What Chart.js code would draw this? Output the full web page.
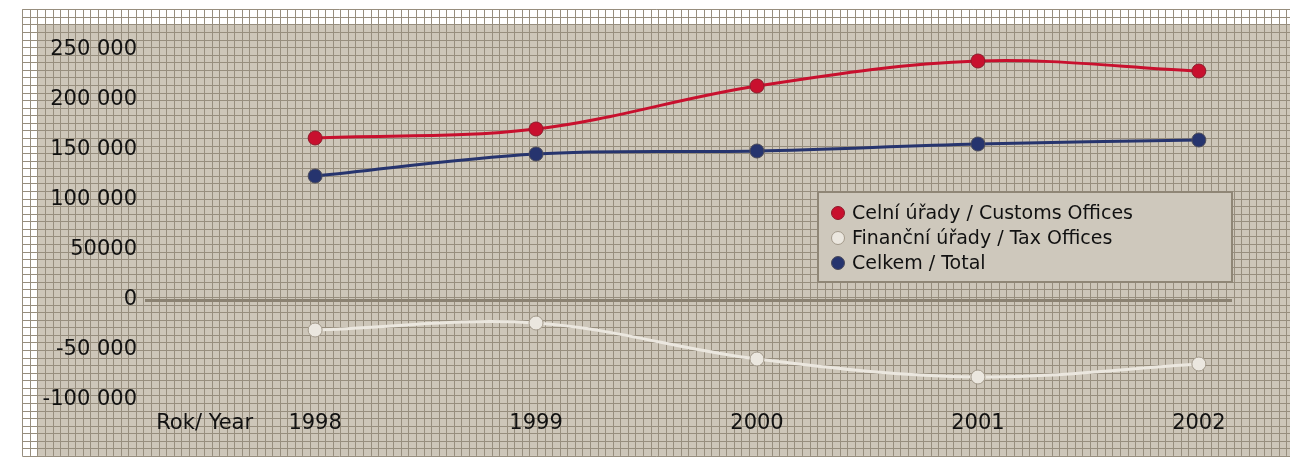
<!DOCTYPE html>
<html>
<head>
<meta charset="utf-8">
<script src="https://cdn.jsdelivr.net/npm/chart.js@4"></script>
<style>
  body { margin: 0; background: #fff; }
  canvas { display: block; }
</style>
</head>
<body>
<canvas id="chart" width="1290" height="460"></canvas>
<script>
const years = [1998, 1999, 2000, 2001, 2002];
const customs = [162000, 171000, 214000, 239000, 229000];
const taxOffices = [-30000, -23000, -59000, -77000, -64000];
const total = [124000, 146000, 149000, 156000, 160000];

const seriesNames = ['Celní úřady / Customs Offices', 'Finanční úřady / Tax Offices', 'Celkem / Total'];
const yTickValues = [250000, 200000, 150000, 100000, 50000, 0, -50000, -100000];
const yTickLabels = ['250 000', '200 000', '150 000', '100 000', '50000', '0', '-50 000', '-100 000'];
const xTickValues = [1997.5, 1998, 1999, 2000, 2001, 2002];
const xTickLabels = ['Rok/ Year', '1998', '1999', '2000', '2001', '2002'];

const FONT = 'DejaVu Sans';
const GRID_LINE = '#978e7e';
const PAPER = '#cdc6b9';

// graph-paper backdrop: white margin cells along the top/left, beige everywhere else
const paperPlugin = {
  id: 'paper',
  beforeDraw(chart) {
    const { ctx, width, height } = chart;
    const step = 7.57, x0 = 22.3, y0 = 9.3;
    ctx.save();
    ctx.fillStyle = '#fff';
    ctx.fillRect(0, 0, width, height);
    const bottom = y0 + step * 59;
    ctx.fillStyle = PAPER;
    ctx.fillRect(x0 + step * 2, y0 + step * 2, width, bottom - (y0 + step * 2));
    ctx.strokeStyle = GRID_LINE;
    ctx.lineWidth = 1;
    ctx.beginPath();
    for (let x = x0; x <= width + 1; x += step) {
      ctx.moveTo(Math.round(x) + 0.5, y0);
      ctx.lineTo(Math.round(x) + 0.5, bottom);
    }
    for (let y = y0; y <= bottom + 0.5; y += step) {
      ctx.moveTo(x0, Math.round(y) + 0.5);
      ctx.lineTo(width, Math.round(y) + 0.5);
    }
    ctx.stroke();
    ctx.restore();
  }
};

// boxed legend inside the plot, drawn from the datasets
const boxLegend = {
  id: 'boxLegend',
  afterDraw(chart) {
    const { ctx } = chart;
    const bx = 818, by = 192, bw = 414, bh = 90;
    ctx.save();
    ctx.fillStyle = '#cec8bc';
    ctx.fillRect(bx, by, bw, bh);
    ctx.strokeStyle = '#8f8676';
    ctx.lineWidth = 2;
    ctx.strokeRect(bx, by, bw, bh);
    ctx.font = '19px "' + FONT + '"';
    ctx.textBaseline = 'middle';
    chart.data.datasets.forEach((ds, i) => {
      const y = by + 21 + i * 25;
      ctx.beginPath();
      ctx.arc(bx + 20, y, 6.5, 0, Math.PI * 2);
      ctx.fillStyle = ds.pointBackgroundColor;
      ctx.fill();
      ctx.lineWidth = 1;
      ctx.strokeStyle = ds.pointBorderColor;
      ctx.stroke();
      ctx.fillStyle = '#111';
      ctx.fillText(ds.label, bx + 34, y + 1);
    });
    ctx.restore();
  }
};

function series(label, data, line, fill, edge) {
  return {
    label,
    data: data.map((v, i) => ({ x: years[i], y: v })),
    borderColor: line,
    borderWidth: 3,
    pointRadius: 7,
    pointBackgroundColor: fill,
    pointBorderColor: edge,
    pointBorderWidth: 1,
    tension: 0.35
  };
}

new Chart(document.getElementById('chart'), {
  type: 'line',
  data: {
    datasets: [
      series(seriesNames[0], customs, '#c8102e', '#c8102e', '#8e1a2a'),
      series(seriesNames[1], taxOffices, '#ebe7df', '#ebe7df', '#a39a8b'),
      series(seriesNames[2], total, '#26346e', '#26346e', '#4a4a5a')
    ]
  },
  options: {
    responsive: false,
    animation: false,
    layout: { padding: { top: 50, right: 58, left: 0, bottom: 0 } },
    plugins: {
      legend: { display: false },
      tooltip: { enabled: false }
    },
    scales: {
      x: {
        type: 'linear',
        min: 1997.23,
        max: 2002.15,
        afterBuildTicks: scale => { scale.ticks = xTickValues.map(v => ({ value: v })); },
        afterFit: scale => { scale.height = 60; },
        grid: { display: false, drawTicks: false },
        border: { display: false },
        ticks: {
          padding: 11,
          color: '#111',
          font: { family: FONT, size: 21 },
          callback: v => xTickLabels[xTickValues.indexOf(v)] ?? ''
        }
      },
      y: {
        min: -100000,
        max: 250000,
        afterBuildTicks: scale => { scale.ticks = yTickValues.map(v => ({ value: v })); },
        afterFit: scale => { scale.width = 145; },
        grid: {
          drawTicks: false,
          color: c => (c.tick && c.tick.value === 0 ? '#8b8272' : 'transparent'),
          lineWidth: 3
        },
        border: { display: false },
        ticks: {
          padding: 8,
          color: '#111',
          font: { family: FONT, size: 21 },
          callback: v => yTickLabels[yTickValues.indexOf(v)] ?? ''
        }
      }
    }
  },
  plugins: [paperPlugin, boxLegend]
});
</script>
</body>
</html>
